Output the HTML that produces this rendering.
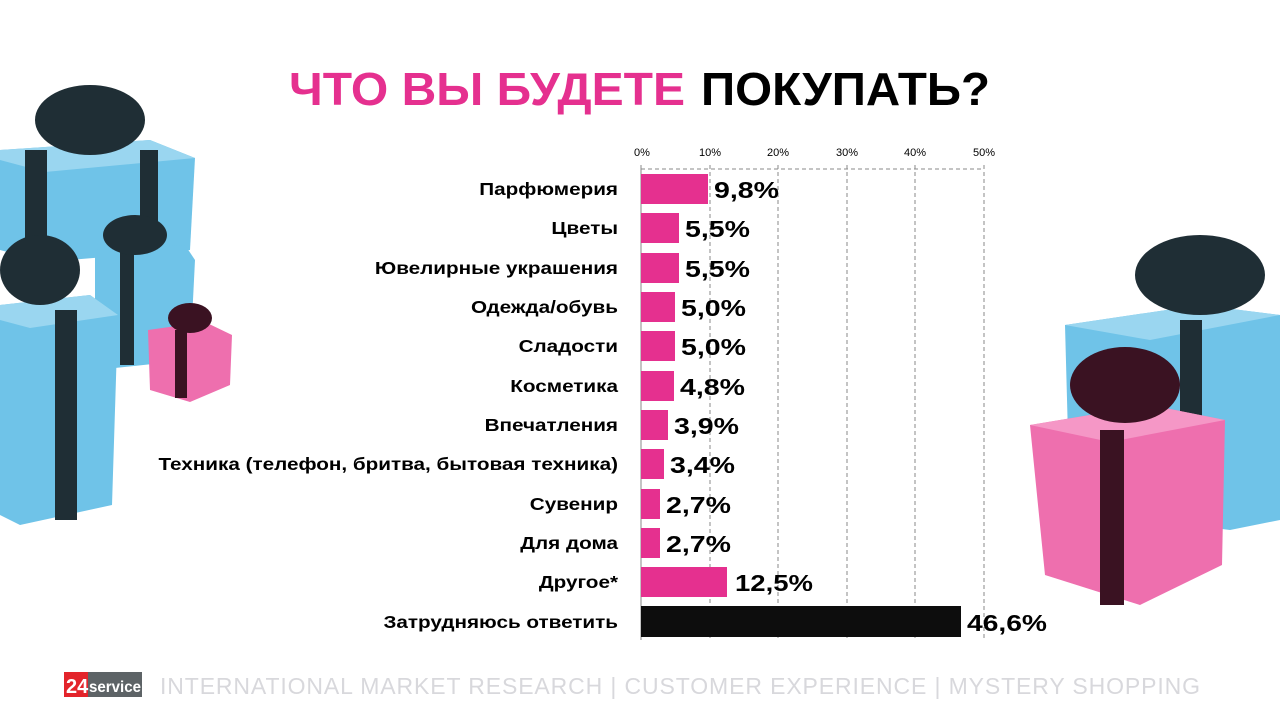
<!DOCTYPE html>
<html><head><meta charset="utf-8"><style>
body{margin:0;width:1280px;height:720px;background:#fff;overflow:hidden;font-family:"Liberation Sans",sans-serif;}
</style></head><body>
<svg width="1280" height="720" xmlns="http://www.w3.org/2000/svg" style="position:absolute;left:0;top:0">
<!-- left gifts -->
<polygon points="0,150 150,140 195,158 190,250 45,262 0,250" fill="#6fc3e8"/>
<polygon points="0,150 150,140 195,158 45,172 0,160" fill="#9ad6f0"/>
<rect x="25" y="150" width="22" height="110" fill="#1f2e35"/>
<rect x="140" y="150" width="18" height="100" fill="#1f2e35"/>
<ellipse cx="90" cy="120" rx="55" ry="35" fill="#1f2e35"/>
<polygon points="95,250 185,245 195,260 190,360 115,368 95,350" fill="#6fc3e8"/>
<rect x="120" y="250" width="14" height="115" fill="#1f2e35"/>
<ellipse cx="135" cy="235" rx="32" ry="20" fill="#1f2e35"/>
<polygon points="0,305 90,295 118,315 112,505 20,525 0,515" fill="#6fc3e8"/>
<polygon points="0,305 90,295 118,315 30,328 0,320" fill="#9ad6f0"/>
<rect x="55" y="310" width="22" height="210" fill="#1f2e35"/>
<ellipse cx="40" cy="270" rx="40" ry="35" fill="#1f2e35"/>
<polygon points="148,330 205,322 232,335 230,385 190,402 150,390" fill="#ee6fae"/>
<rect x="175" y="330" width="12" height="68" fill="#3a1222"/>
<ellipse cx="190" cy="318" rx="22" ry="15" fill="#3a1222"/>
<!-- right gifts -->
<polygon points="1065,325 1200,305 1280,315 1280,520 1230,530 1070,510" fill="#6fc3e8"/>
<polygon points="1065,325 1200,305 1280,315 1150,340" fill="#9ad6f0"/>
<rect x="1180" y="320" width="22" height="200" fill="#1f2e35"/>
<ellipse cx="1200" cy="275" rx="65" ry="40" fill="#1f2e35"/>
<polygon points="1030,425 1150,405 1225,420 1222,565 1140,605 1045,575" fill="#ee6fae"/>
<polygon points="1030,425 1150,405 1225,420 1110,442" fill="#f597c6"/>
<rect x="1100" y="430" width="24" height="175" fill="#3a1222"/>
<ellipse cx="1125" cy="385" rx="55" ry="38" fill="#3a1222"/>
<!-- title -->
<g font-family="Liberation Sans" font-weight="bold" font-size="46">
<text x="289" y="105" fill="#e5308f" textLength="396" lengthAdjust="spacingAndGlyphs">ЧТО ВЫ БУДЕТЕ</text>
<text x="701" y="105" fill="#000" textLength="289" lengthAdjust="spacingAndGlyphs">ПОКУПАТЬ?</text>
</g>
<!-- axis -->
<g font-family="Liberation Sans" font-size="11" fill="#000" text-anchor="middle">
<text x="642" y="156">0%</text><text x="710" y="156">10%</text><text x="778" y="156">20%</text><text x="847" y="156">30%</text><text x="915" y="156">40%</text><text x="984" y="156">50%</text>
</g>
<g stroke="#888" stroke-dasharray="4,3" stroke-width="1">
<line x1="641" y1="169" x2="984" y2="169"/>
<line x1="710" y1="165" x2="710" y2="640"/><line x1="778" y1="165" x2="778" y2="640"/><line x1="847" y1="165" x2="847" y2="640"/><line x1="915" y1="165" x2="915" y2="640"/><line x1="984" y1="165" x2="984" y2="640"/>
</g>
<line x1="641" y1="165" x2="641" y2="640" stroke="#888"/>
<g font-family="Liberation Sans" font-weight="bold">
<g font-size="18" text-anchor="end" fill="#000" transform="translate(618,0) scale(1.15,1) translate(-618,0)">
<text x="618" y="195">Парфюмерия</text>
<text x="618" y="234">Цветы</text>
<text x="618" y="274">Ювелирные украшения</text>
<text x="618" y="313">Одежда/обувь</text>
<text x="618" y="352">Сладости</text>
<text x="618" y="392">Косметика</text>
<text x="618" y="431">Впечатления</text>
<text x="618" y="470">Техника (телефон, бритва, бытовая техника)</text>
<text x="618" y="510">Сувенир</text>
<text x="618" y="549">Для дома</text>
<text x="618" y="588">Другое*</text>
<text x="618" y="628">Затрудняюсь ответить</text>
</g>
<g fill="#e5308f">
<rect x="641" y="174" width="67" height="30"/>
<rect x="641" y="213" width="38" height="30"/>
<rect x="641" y="253" width="38" height="30"/>
<rect x="641" y="292" width="34" height="30"/>
<rect x="641" y="331" width="34" height="30"/>
<rect x="641" y="371" width="33" height="30"/>
<rect x="641" y="410" width="27" height="30"/>
<rect x="641" y="449" width="23" height="30"/>
<rect x="641" y="489" width="19" height="30"/>
<rect x="641" y="528" width="19" height="30"/>
<rect x="641" y="567" width="86" height="30"/>
</g>
<rect x="641" y="606" width="320" height="31" fill="#0d0d0d"/>
<g font-size="23" fill="#000" lengthAdjust="spacingAndGlyphs">
<text x="714" y="198" textLength="65" lengthAdjust="spacingAndGlyphs">9,8%</text>
<text x="685" y="237" textLength="65" lengthAdjust="spacingAndGlyphs">5,5%</text>
<text x="685" y="277" textLength="65" lengthAdjust="spacingAndGlyphs">5,5%</text>
<text x="681" y="316" textLength="65" lengthAdjust="spacingAndGlyphs">5,0%</text>
<text x="681" y="355" textLength="65" lengthAdjust="spacingAndGlyphs">5,0%</text>
<text x="680" y="395" textLength="65" lengthAdjust="spacingAndGlyphs">4,8%</text>
<text x="674" y="434" textLength="65" lengthAdjust="spacingAndGlyphs">3,9%</text>
<text x="670" y="473" textLength="65" lengthAdjust="spacingAndGlyphs">3,4%</text>
<text x="666" y="513" textLength="65" lengthAdjust="spacingAndGlyphs">2,7%</text>
<text x="666" y="552" textLength="65" lengthAdjust="spacingAndGlyphs">2,7%</text>
<text x="735" y="591" textLength="78" lengthAdjust="spacingAndGlyphs">12,5%</text>
<text x="967" y="631" textLength="80" lengthAdjust="spacingAndGlyphs">46,6%</text>
</g>
</g>
<!-- footer -->
<rect x="64" y="672" width="28" height="25" fill="#e3242b"/>
<rect x="88" y="672" width="54" height="25" fill="#5d6366"/>
<text x="66" y="693" font-family="Liberation Sans" font-weight="bold" font-size="20" fill="#fff">24</text>
<text x="89" y="692" font-family="Liberation Sans" font-weight="bold" font-size="16" fill="#fff" textLength="52" lengthAdjust="spacingAndGlyphs">service</text>
<text x="160" y="694" font-family="Liberation Sans" font-size="23" fill="#d8d8dc" textLength="1040" lengthAdjust="spacing">INTERNATIONAL  MARKET RESEARCH  | CUSTOMER EXPERIENCE  |  MYSTERY SHOPPING</text>
</svg>
</body></html>
